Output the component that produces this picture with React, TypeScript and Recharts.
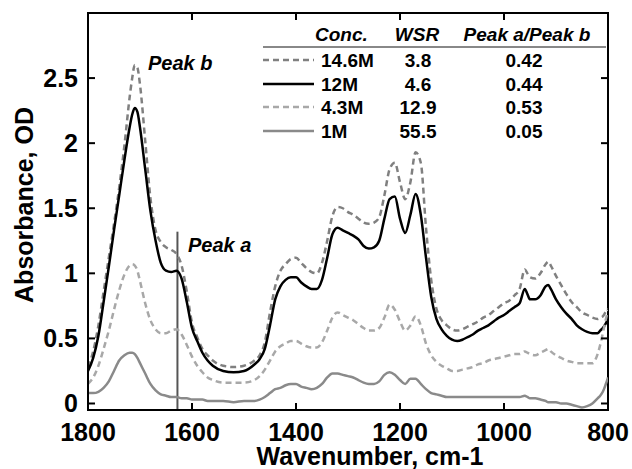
import React from "react";
import { LineChart, Line, XAxis, YAxis, ReferenceLine, ReferenceArea } from "recharts";

// wavenumber grid, cm-1
const wavenumbers = [
  1800, 1790, 1780, 1770, 1760, 1750, 1740, 1730, 1720, 1715,
  1710, 1705, 1700, 1690, 1680, 1670, 1660, 1650, 1640, 1630,
  1620, 1610, 1600, 1590, 1580, 1570, 1560, 1540, 1520, 1500,
  1480, 1470, 1460, 1450, 1440, 1430, 1420, 1410, 1400, 1390,
  1380, 1370, 1360, 1350, 1340, 1330, 1320, 1310, 1300, 1290,
  1280, 1270, 1260, 1250, 1240, 1230, 1220, 1210, 1200, 1190,
  1180, 1170, 1160, 1150, 1140, 1130, 1120, 1110, 1100, 1090,
  1080, 1070, 1060, 1050, 1040, 1030, 1020, 1010, 1000, 990,
  980, 970, 960, 955, 950, 940, 930, 920, 915, 910,
  900, 890, 880, 870, 860, 850, 840, 830, 820, 815,
  810, 805, 800,
];

const conc14_6 = [
  0.28, 0.40, 0.60, 0.86, 1.12, 1.38, 1.66, 1.98, 2.35, 2.50,
  2.60, 2.58, 2.45, 2.02, 1.58, 1.33, 1.24, 1.20, 1.18, 1.15,
  1.06, 0.86, 0.62, 0.51, 0.42, 0.37, 0.33, 0.29, 0.28, 0.29,
  0.33, 0.37, 0.47, 0.70, 0.90, 1.02, 1.07, 1.11, 1.12, 1.08,
  1.04, 1.01, 1.00, 1.08, 1.25, 1.44, 1.51, 1.50, 1.47, 1.45,
  1.42, 1.39, 1.38, 1.39, 1.43, 1.60, 1.80, 1.85, 1.70, 1.57,
  1.70, 1.93, 1.85, 1.35, 0.95, 0.73, 0.64, 0.60, 0.57, 0.56,
  0.57, 0.59, 0.61, 0.63, 0.66, 0.68, 0.71, 0.74, 0.77, 0.79,
  0.83, 0.88, 1.03, 1.00, 0.97, 0.96, 1.00, 1.07, 1.09, 1.06,
  0.98, 0.91, 0.84, 0.78, 0.74, 0.70, 0.68, 0.66, 0.65, 0.66,
  0.67, 0.70, 0.73,
];

const conc12 = [
  0.25, 0.35, 0.52, 0.78, 1.05, 1.33, 1.60, 1.87, 2.12, 2.22,
  2.27, 2.24, 2.12, 1.80, 1.48, 1.25, 1.08, 1.02, 1.01, 1.02,
  0.96, 0.78, 0.58, 0.48, 0.39, 0.33, 0.29, 0.25, 0.24, 0.25,
  0.30, 0.34, 0.42, 0.60, 0.80, 0.90, 0.95, 0.97, 0.97, 0.93,
  0.90, 0.88, 0.88, 0.95, 1.12, 1.30, 1.35, 1.33, 1.31, 1.29,
  1.26, 1.21, 1.19, 1.20, 1.25, 1.42, 1.57, 1.59, 1.42, 1.31,
  1.45, 1.61, 1.45, 1.12, 0.82, 0.65, 0.57, 0.52, 0.49, 0.48,
  0.49, 0.51, 0.53, 0.56, 0.58, 0.60, 0.63, 0.66, 0.68, 0.71,
  0.74, 0.77, 0.88, 0.84, 0.80, 0.80, 0.83, 0.90, 0.91, 0.88,
  0.80, 0.74, 0.69, 0.65, 0.60, 0.57, 0.55, 0.54, 0.54, 0.56,
  0.58, 0.61, 0.65,
];

const conc4_3 = [
  0.15, 0.20, 0.29, 0.42, 0.56, 0.72, 0.87, 0.99, 1.06, 1.07,
  1.06, 1.02, 0.94, 0.77, 0.64, 0.57, 0.54, 0.54, 0.56, 0.57,
  0.53, 0.45, 0.36, 0.29, 0.24, 0.20, 0.18, 0.16, 0.16, 0.16,
  0.18, 0.21, 0.26, 0.33, 0.40, 0.44, 0.46, 0.48, 0.48, 0.46,
  0.44, 0.43, 0.43, 0.47, 0.56, 0.66, 0.70, 0.68, 0.66, 0.64,
  0.61, 0.58, 0.56, 0.56, 0.58, 0.66, 0.76, 0.72, 0.63, 0.56,
  0.60, 0.67, 0.60, 0.46, 0.37, 0.32, 0.29, 0.27, 0.25, 0.25,
  0.26, 0.27, 0.28, 0.30, 0.31, 0.33, 0.34, 0.35, 0.36, 0.37,
  0.38, 0.38, 0.40, 0.39, 0.38, 0.37, 0.39, 0.41, 0.42, 0.40,
  0.37, 0.35, 0.33, 0.32, 0.31, 0.31, 0.31, 0.31, 0.38, 0.45,
  0.54, 0.63, 0.72,
];

const conc1 = [
  0.08, 0.08, 0.09, 0.12, 0.17, 0.25, 0.33, 0.37, 0.39, 0.39,
  0.38, 0.35, 0.31, 0.23, 0.15, 0.10, 0.07, 0.06, 0.05, 0.05,
  0.04, 0.04, 0.03, 0.03, 0.03, 0.02, 0.02, 0.02, 0.01, 0.02,
  0.02, 0.03, 0.05, 0.08, 0.11, 0.12, 0.14, 0.15, 0.15, 0.13,
  0.12, 0.11, 0.12, 0.15, 0.20, 0.23, 0.23, 0.22, 0.21, 0.20,
  0.18, 0.16, 0.15, 0.15, 0.17, 0.22, 0.24, 0.22, 0.18, 0.15,
  0.19, 0.19, 0.15, 0.11, 0.08, 0.07, 0.06, 0.05, 0.05, 0.05,
  0.05, 0.05, 0.05, 0.05, 0.05, 0.05, 0.05, 0.05, 0.05, 0.05,
  0.05, 0.05, 0.06, 0.05, 0.04, 0.04, 0.03, 0.02, 0.01, 0.01,
  0.01, 0.00, 0.00, -0.01, -0.02, -0.03, -0.02, 0.00, 0.04, 0.06,
  0.09, 0.14, 0.20,
];

const xTicks = [1800, 1600, 1400, 1200, 1000, 800];
const yTicks = [0, 0.5, 1, 1.5, 2, 2.5];
const peakAWavenumber = 1628;

// legend table rows
const legendConc = ["14.6M", "12M", "4.3M", "1M"];
const legendWsr = ["3.8", "4.6", "12.9", "55.5"];
const legendRatio = ["0.42", "0.44", "0.53", "0.05"];

const series = [
  { key: "c14", color: "#808080", dash: "6 4" },
  { key: "c12", color: "#000000", dash: undefined },
  { key: "c4", color: "#a8a8a8", dash: "6 4" },
  { key: "c1", color: "#8a8a8a", dash: undefined },
];

const data = wavenumbers.map((wn, i) => ({
  wn,
  c14: conc14_6[i],
  c12: conc12[i],
  c4: conc4_3[i],
  c1: conc1[i],
}));

const FONT = "'Liberation Sans', Arial, sans-serif";
const PLOT_TOP = 13;
const PLOT_RIGHT = 608;

const XTick = (props: any) => {
  const { x, y, payload } = props;
  const v = payload.value;
  const inner = v !== 1800 && v !== 800;
  return (
    <g>
      {inner && <line x1={x} x2={x} y1={y} y2={y - 7} stroke="#000" strokeWidth={2} />}
      {inner && <line x1={x} x2={x} y1={PLOT_TOP} y2={PLOT_TOP + 7} stroke="#000" strokeWidth={2} />}
      <text x={x} y={y + 31} textAnchor="middle" fontFamily={FONT} fontWeight="bold" fontSize={25} fill="#000">
        {v}
      </text>
    </g>
  );
};

const YTick = (props: any) => {
  const { x, y, payload } = props;
  return (
    <g>
      <line x1={x} x2={x + 7} y1={y} y2={y} stroke="#000" strokeWidth={2} />
      <line x1={PLOT_RIGHT - 7} x2={PLOT_RIGHT} y1={y} y2={y} stroke="#000" strokeWidth={2} />
      <text x={x - 10} y={y + 9} textAnchor="end" fontFamily={FONT} fontWeight="bold" fontSize={25} fill="#000">
        {payload.value}
      </text>
    </g>
  );
};

const rowY = [67, 91, 114, 138];

export default function App() {
  return (
    <div
      style={{
        position: "absolute",
        left: 0,
        top: 0,
        width: 632,
        height: 469,
        overflow: "hidden",
        background: "#fff",
      }}
    >
      <LineChart width={632} height={469} data={data} margin={{ top: 13, right: 24, bottom: 0, left: 0 }}>
        <XAxis
          dataKey="wn"
          type="number"
          domain={[800, 1800]}
          reversed
          allowDataOverflow
          ticks={xTicks}
          interval={0}
          height={59}
          tickSize={0}
          tickMargin={0}
          tick={<XTick />}
          axisLine={{ stroke: "#000", strokeWidth: 2 }}
        />
        <YAxis
          type="number"
          domain={[-0.05, 3]}
          allowDataOverflow
          ticks={yTicks}
          interval={0}
          width={88}
          tickSize={0}
          tickMargin={0}
          tick={<YTick />}
          axisLine={{ stroke: "#000", strokeWidth: 2 }}
        />
        <ReferenceArea x1={800} x2={1800} y1={-0.05} y2={3} fill="none" stroke="#000" strokeWidth={2} />
        <ReferenceLine
          segment={[{ x: peakAWavenumber, y: -0.05 }, { x: peakAWavenumber, y: 1.32 }]}
          stroke="#555"
          strokeWidth={2}
        />
        {series.map((s) => (
          <Line
            key={s.key}
            dataKey={s.key}
            type="monotone"
            stroke={s.color}
            strokeWidth={2.5}
            strokeDasharray={s.dash}
            dot={false}
            isAnimationActive={false}
          />
        ))}
      </LineChart>
      <svg
        width={632}
        height={469}
        style={{ position: "absolute", left: 0, top: 0, pointerEvents: "none" }}
        fontFamily={FONT}
        fontWeight="bold"
      >
        <text x={33} y={205} transform="rotate(-90 33 205)" textAnchor="middle" fontSize={25}>
          Absorbance, OD
        </text>
        <text x={370} y={465} textAnchor="middle" fontSize={25}>
          Wavenumber, cm-1
        </text>
        <text x={148} y={70} fontSize={20} fontStyle="italic">Peak b</text>
        <text x={188} y={252} fontSize={20} fontStyle="italic">Peak a</text>

        <text x={315} y={41} fontSize={19} fontStyle="italic">Conc.</text>
        <text x={417} y={41} fontSize={19} fontStyle="italic" textAnchor="middle">WSR</text>
        <text x={527} y={41} fontSize={19} fontStyle="italic" textAnchor="middle">Peak a/Peak b</text>
        <line x1={263} x2={606} y1={47} y2={47} stroke="#888" strokeWidth={2} />
        {legendConc.map((c, i) => (
          <g key={c}>
            <line
              x1={263}
              x2={314}
              y1={rowY[i] - 7}
              y2={rowY[i] - 7}
              stroke={series[i].color}
              strokeWidth={2.5}
              strokeDasharray={series[i].dash}
            />
            <text x={321} y={rowY[i]} fontSize={19}>{c}</text>
            <text x={418} y={rowY[i]} fontSize={19} textAnchor="middle">{legendWsr[i]}</text>
            <text x={524} y={rowY[i]} fontSize={19} textAnchor="middle">{legendRatio[i]}</text>
          </g>
        ))}
      </svg>
    </div>
  );
}
